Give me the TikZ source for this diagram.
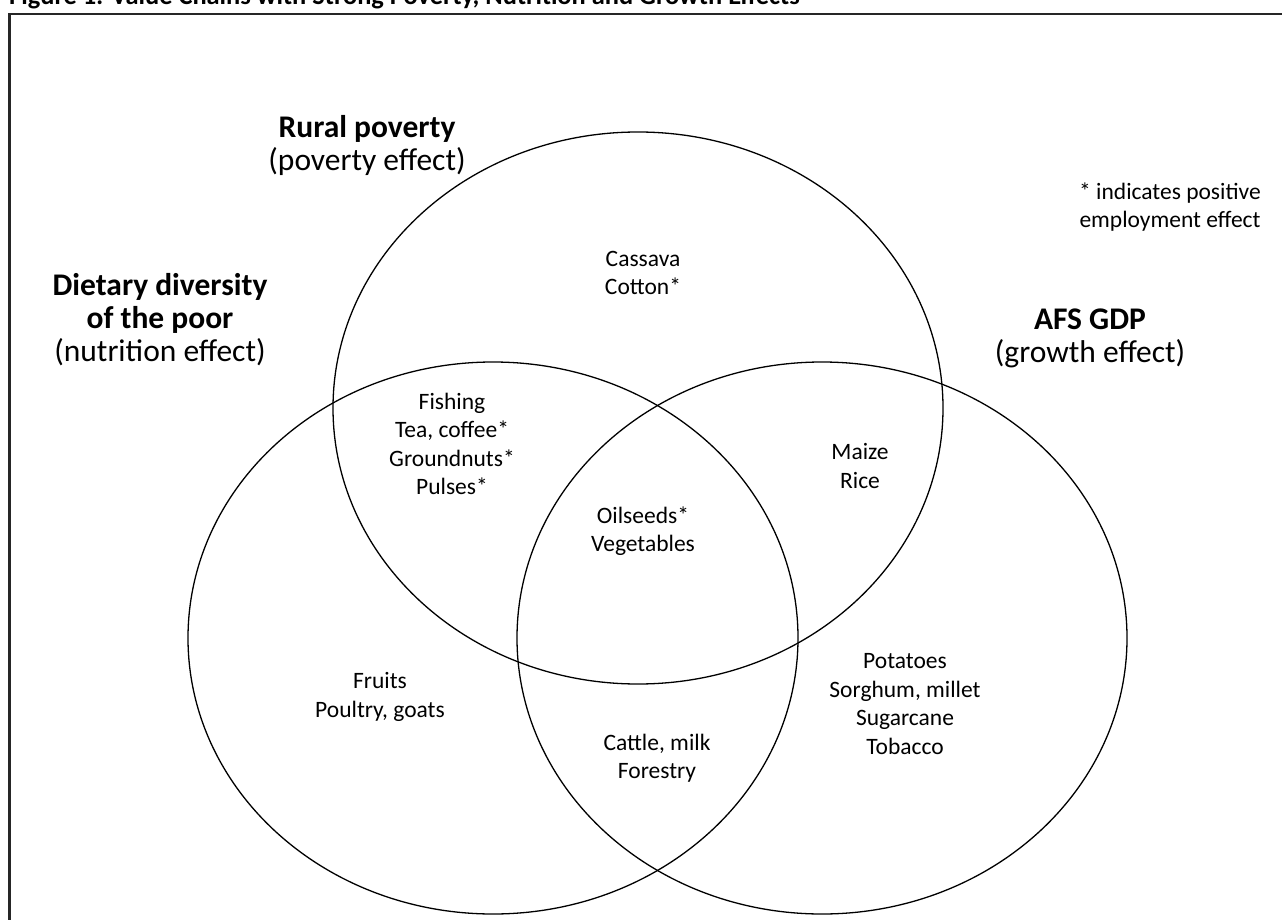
\documentclass[tikz,border=0pt]{standalone}
\usepackage{fontspec}
\setmainfont{Carlito}
\begin{document}
\begin{tikzpicture}[x=1pt,y=-1pt,
  venn/.style={draw=black,line width=1.3pt},
  body/.style={align=center,font=\fontsize{23.5}{28.5}\selectfont,inner sep=0pt},
  lbl/.style={align=center,font=\fontsize{31.5}{33}\selectfont,inner sep=0pt},
  frame/.style={draw=black!85,line width=2.2pt}]
\useasboundingbox (0,0) rectangle (1282,920);
\node[anchor=base west,inner sep=0pt,font=\fontsize{26.4}{30}\selectfont\bfseries] (title) at (9,4.5) {Figure 1: Value Chains with Strong Poverty, Nutrition and Growth Effects};
\draw[frame] (1300,14) -- (9.5,14) -- (9.5,940);
\draw[venn] (638,408) ellipse [x radius=305, y radius=276];
\draw[venn] (493,638) ellipse [x radius=305, y radius=276];
\draw[venn] (822,638) ellipse [x radius=305, y radius=276];
\node[lbl] (rp) at (367,145) {\textbf{Rural poverty}\\(poverty effect)};
\node[lbl] (dd) at (160,320) {\textbf{Dietary diversity}\\\textbf{of the poor}\\(nutrition effect)};
\node[lbl] (afs) at (1090,338) {\textbf{AFS GDP}\\(growth effect)};
\node[body] (note) at (1170,207) {* indicates positive\\employment effect};
\node[body] (cas) at (643,273) {Cassava\\Cotton*};
\node[body] (fish) at (452,444) {Fishing\\Tea, coffee*\\Groundnuts*\\Pulses*};
\node[body] (maize) at (860,466) {Maize\\Rice};
\node[body] (oil) at (643,531) {Oilseeds*\\Vegetables};
\node[body] (fruit) at (380,697) {Fruits\\Poultry, goats};
\node[body] (pot) at (905,704) {Potatoes\\Sorghum, millet\\Sugarcane\\Tobacco};
\node[body] (cat) at (657,758) {Cattle, milk\\Forestry};
\end{tikzpicture}
\end{document}
